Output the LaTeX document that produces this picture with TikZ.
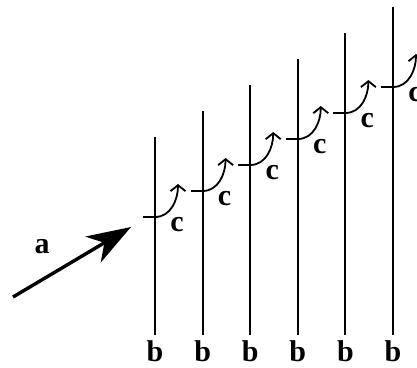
\documentclass[tikz,border=0pt]{standalone}
\usepackage{fontspec}
\setmainfont{Liberation Serif}
\usetikzlibrary{arrows.meta,positioning,calc}

\begin{document}
\begin{tikzpicture}[x=1pt,y=-1pt]
  % staircase of stems, each with a hop to the next one
  \tikzset{lbl/.style={font=\fontsize{30}{30}\selectfont\bfseries,inner sep=0pt},
    stem/.style={line width=2pt},
    hop/.style={line width=1.8pt,-{Straight Barb[length=6pt,width=15pt,line width=1.8pt]}}}
  \useasboundingbox (0,0) rectangle (417,367);
  \clip (0,0) rectangle (417,367);
  \foreach \i in {1,...,6} {
    \pgfmathsetmacro{\xx}{155+47.6*(\i-1)}
    \pgfmathsetmacro{\yt}{137-26*(\i-1)}
    \pgfmathsetmacro{\yk}{217-26*(\i-1)}
    \coordinate (top\i) at (\xx,\yt);
    \coordinate (bot\i) at (\xx,335);
    \coordinate (hop\i) at (\xx,\yk);
    \coordinate (tick\i) at (\xx-12,\yk);
    \coordinate (tip\i) at (\xx+23,\yk-33);
    \node[lbl] (b\i) at (\xx,351) {b};
    \node[lbl] (c\i) at (\xx+22,\yk+8) {c};
    \draw[stem] (top\i) -- (bot\i);
    \draw[stem] (tick\i) -- (hop\i);
    \draw[hop] (hop\i) to[out=0,in=-90] (tip\i);
  }
  \node[lbl] (a) at (42,247) {a};
  \coordinate (src) at (13,297);
  \coordinate (dst) at (131,227);
  \draw[line width=3.4pt,-{Stealth[length=44pt,width=30pt,inset=13pt]}] (src) -- (dst);
\end{tikzpicture}
\end{document}
